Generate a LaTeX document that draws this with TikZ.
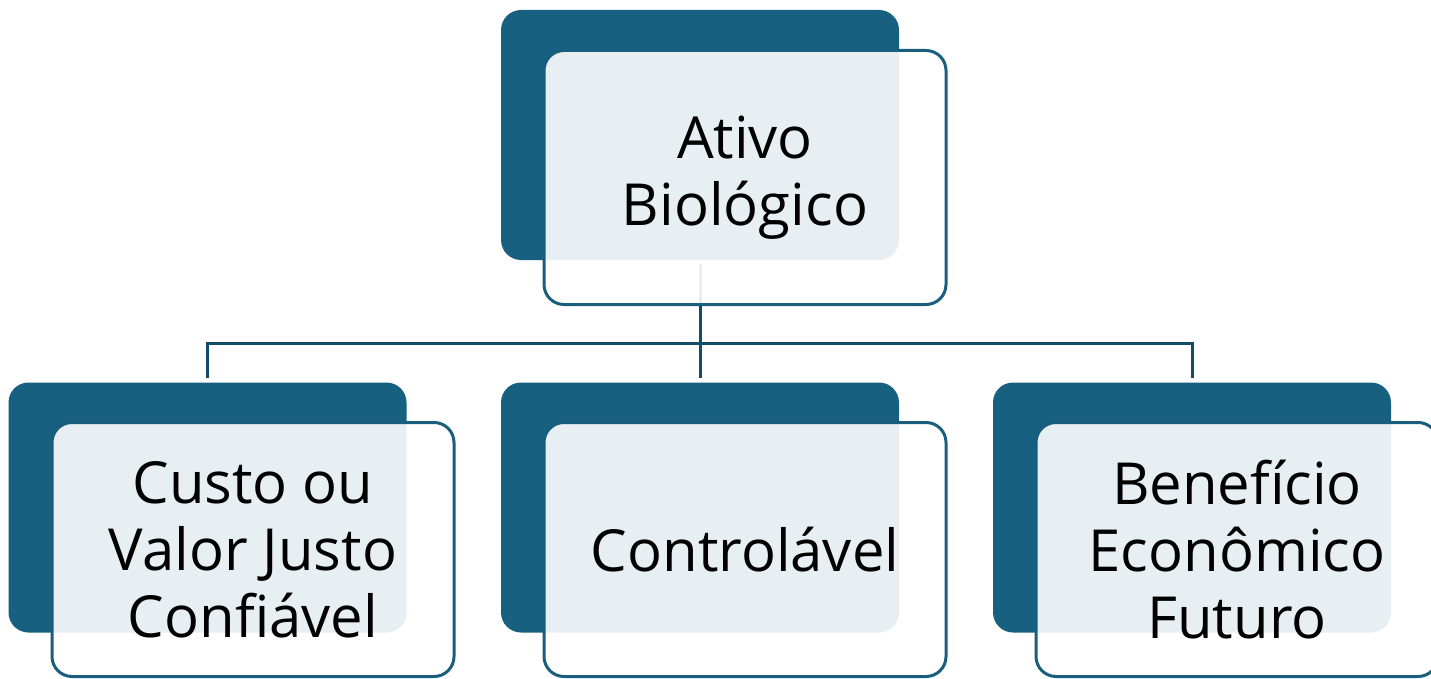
\documentclass[tikz,border=0pt]{standalone}
\usepackage{fontspec}
\setmainfont{Open Sans}
\definecolor{darkbox}{RGB}{23,96,128}
\definecolor{edgecol}{RGB}{26,94,126}
\definecolor{linkcol}{RGB}{20,75,102}
\tikzset{
  backbox/.style={rectangle, rounded corners=20pt, fill=darkbox, draw=none,
    minimum width=398pt, minimum height=250pt, inner sep=0pt},
  frontbox/.style={rectangle, rounded corners=20pt, draw=edgecol, line width=3pt,
    fill=white, fill opacity=0.9, text opacity=1, text=black,
    minimum width=402pt, minimum height=254pt, inner sep=0pt, align=center,
    font=\fontsize{58}{67}\selectfont},
  link/.style={draw=linkcol, line width=3pt, shorten <=4pt, shorten >=4pt}
}
\begin{document}
\begin{tikzpicture}[x=1pt, y=-1pt]
\useasboundingbox (0,0) rectangle (1431,679);
% back boxes
\node[backbox] (d0) at (700,135) {};
\node[backbox] (d1) at (207.5,507.5) {};
\node[backbox] (d2) at (700,507.5) {};
\node[backbox] (d3) at (1192,507.5) {};
% connectors
\coordinate (bus) at (700,343);
\draw[link] (d0.south) -- (bus) -| (d1.north);
\draw[link] (d0.south) -- (bus) -| (d3.north);
\draw[link] (d0.south) -- (d2.north);
% front boxes
\node[frontbox] (l0) at (745,177.5) {Ativo\\Biológico};
\node[frontbox] (l1) at (253,549.5) {Custo ou\\Valor Justo\\Confiável};
\node[frontbox] (l2) at (745,549.5) {Controlável};
\node[frontbox] (l3) at (1237,549.5) {Benefício\\Econômico\\Futuro};
\end{tikzpicture}
\end{document}
